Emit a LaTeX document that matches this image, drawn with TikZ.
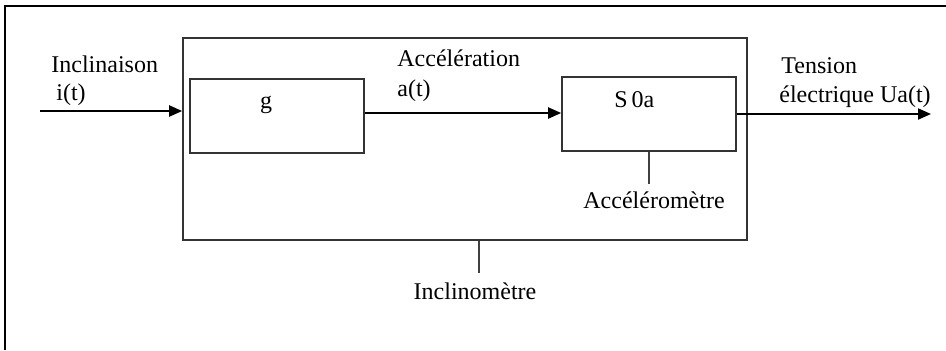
\documentclass[tikz,border=0pt]{standalone}
\usepackage{fontspec}
\setmainfont{Liberation Serif}
\usetikzlibrary{arrows.meta}

\tikzset{
  block/.style={draw=black!80, line width=0.8pt, inner sep=0pt},
  label/.style={inner sep=0pt, font=\fontsize{12pt}{14pt}\selectfont},
  signal/.style={line width=1pt, -{Triangle[length=6.5pt,width=5.5pt]}},
  leader/.style={draw=black!75, line width=0.7pt},
  frame/.style={line width=1.2pt}
}

\begin{document}
\begin{tikzpicture}[x=0.5pt, y=-0.5pt]
  \useasboundingbox (0,0) rectangle (946,350);

  % page frame (top and left sides only)
  \coordinate (fA) at (5,350);
  \coordinate (fB) at (5,6);
  \coordinate (fC) at (946,6);
  \draw[frame] (fA) -- (fB) -- (fC);

  % blocks
  \node[block, minimum width=282pt, minimum height=101pt] (incl) at (465,139) {};
  \node[block, minimum width=87pt, minimum height=37pt] (g) at (277,116) {};
  \node[block, minimum width=87pt, minimum height=37pt] (s0a) at (649,114) {};

  % block titles
  \node[label, anchor=base] (gtxt) at (266,108) {g};
  \node[label, anchor=base west] (s0atxt) at (614,107) {S\,0a};

  % signals
  \coordinate (in) at (40,111);
  \coordinate (out) at (931,114);
  \coordinate (ay) at (0,113);
  \draw[signal] (in) -- (in -| incl.west);
  \draw[signal] (g.east |- ay) -- (s0a.west |- ay);
  \draw[signal] (s0a.east) -- (out);

  % signal labels
  \node[label, anchor=base west] (l1) at (51,72) {Inclinaison};
  \node[label, anchor=base west] (l2) at (56,100) {i(t)};
  \node[label, anchor=base west] (l3) at (397,66) {Accélération};
  \node[label, anchor=base west] (l4) at (397,96) {a(t)};
  \node[label, anchor=base west] (l5) at (781,73) {Tension};
  \node[label, anchor=base west] (l6) at (779,102) {électrique Ua(t)};

  % leaders and component names
  \coordinate (accTop) at (649,184);
  \draw[leader] (s0a.south -| accTop) -- (accTop);
  \node[label, anchor=base] (acc) at (654,208) {Accéléromètre};

  \coordinate (inclTop) at (479,273);
  \draw[leader] (incl.south -| inclTop) -- (inclTop);
  \node[label, anchor=base] (incltxt) at (475,299) {Inclinomètre};
\end{tikzpicture}
\end{document}
